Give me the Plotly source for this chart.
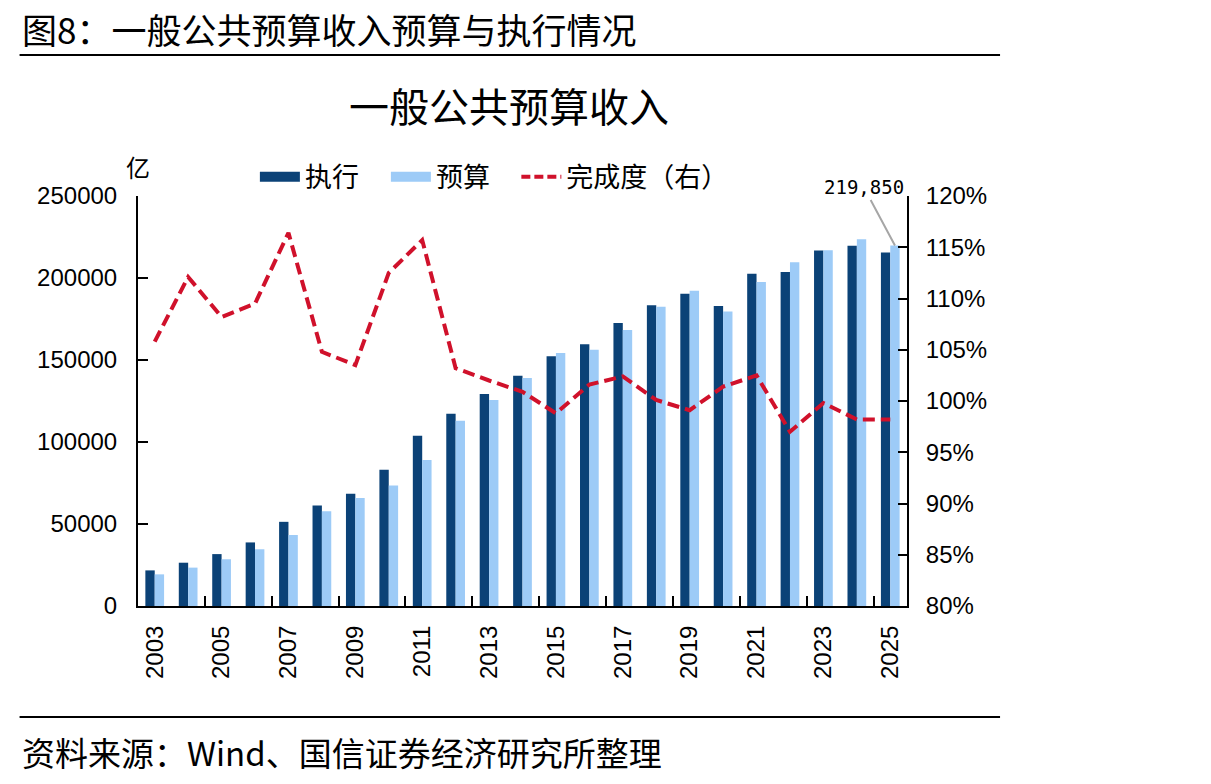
import plotly.graph_objects as go

years = list(range(2003, 2026))
executed = [21715, 26396, 31649, 38760, 51322, 61330, 68518, 83102, 103874, 117254,
            129210, 140370, 152269, 159605, 172567, 183352, 190382, 182895, 202539, 203703,
            216784, 219702, 215600]
budget = [19300, 23400, 28500, 34600, 43300, 57700, 65900, 73400, 89000, 113000,
          125600, 139000, 154300, 156300, 168300, 182500, 192300, 179500, 197600, 209600,
          216900, 223600, 219850]
completion = [1.058, 1.121, 1.082, 1.095, 1.164, 1.048, 1.035, 1.125, 1.157, 1.032,
              1.020, 1.009, 0.988, 1.016, 1.024, 1.001, 0.991, 1.014, 1.025, 0.970,
              0.998, 0.982, 0.982]
label_years = years[::2]
boundary_ticks = [y + 0.5 for y in years[1:-1:2]]

FONT_CJK = "Noto Sans CJK SC"
FONT_NUM = "Liberation Sans"
DARK = "#0B4277"
LIGHT = "#9DCBF7"
RED = "#D0112B"

fig = go.Figure()
fig.add_trace(go.Bar(x=years, y=executed, name="执行", showlegend=False, legendgroup="e",
                     marker=dict(color=DARK, line=dict(width=0))))
fig.add_trace(go.Bar(x=years, y=budget, name="预算", showlegend=False, legendgroup="b",
                     marker=dict(color=LIGHT, line=dict(width=0))))
fig.add_trace(go.Scatter(x=years, y=completion, name="完成度（右）", yaxis="y2", mode="lines",
                         showlegend=False, legendgroup="c",
                         line=dict(color=RED, width=4, dash="12px,6px")))
# legend entries (wide swatches like the original)
fig.add_trace(go.Scatter(x=[None], y=[None], mode="lines", name="执行", legendgroup="e",
                         line=dict(color=DARK, width=16)))
fig.add_trace(go.Scatter(x=[None], y=[None], mode="lines", name="预算", legendgroup="b",
                         line=dict(color=LIGHT, width=16)))
fig.add_trace(go.Scatter(x=[None], y=[None], mode="lines", name="完成度（右）", legendgroup="c",
                         legend="legend2", line=dict(color=RED, width=4, dash="9px,4px")))

legend_common = dict(orientation="h", y=1.046, xanchor="left", yanchor="middle",
                     font=dict(family=FONT_CJK, size=27, color="#000"), bgcolor="rgba(0,0,0,0)",
                     itemwidth=40, traceorder="normal")

fig.update_layout(
    width=1211, height=784,
    margin=dict(l=138, r=304, t=196, b=178),
    paper_bgcolor="white", plot_bgcolor="white",
    barmode="group", bargap=0.44, bargroupgap=0,
    showlegend=True,
    legend=dict(x=0.152, entrywidth=76, entrywidthmode="pixels", **legend_common),
    legend2=dict(x=0.492, **legend_common),
    xaxis=dict(range=[2002.5, 2025.5], tickmode="array", tickvals=label_years,
               ticktext=[str(y) for y in label_years], tickangle=-90,
               ticks="inside", ticklen=0, tickcolor="white",
               minor=dict(tickmode="array", tickvals=boundary_ticks, ticks="inside", ticklen=10,
                          tickwidth=2, tickcolor="#000", showgrid=False),
               showline=True, linecolor="#000", linewidth=2, showgrid=False, zeroline=False,
               tickfont=dict(family=FONT_NUM, size=24, color="#000"), ticklabelstandoff=8),
    yaxis=dict(range=[0, 250000], dtick=50000, tickformat="d", ticks="inside", ticklen=10,
               tickwidth=2, tickcolor="#000", showline=True, linecolor="#000", linewidth=2,
               showgrid=False, zeroline=False, ticklabelstandoff=14,
               tickfont=dict(family=FONT_NUM, size=24, color="#000")),
    yaxis2=dict(range=[0.8, 1.2], dtick=0.05, tickformat=".0%", overlaying="y", side="right",
                ticks="inside", ticklen=9, tickwidth=2, tickcolor="#000", showline=True,
                linecolor="#000", linewidth=2, showgrid=False, zeroline=False, ticklabelstandoff=12,
                tickfont=dict(family=FONT_NUM, size=24, color="#000")),
)

fig.add_annotation(xref="paper", yref="paper", x=0.0, y=1.0, yshift=30, text="亿", showarrow=False,
                   font=dict(family=FONT_CJK, size=24, color="#000"), xanchor="center", yanchor="middle")
fig.add_annotation(xref="x", yref="y", x=years[-1] + 0.14, y=budget[-1], text=f"{budget[-1]:,}",
                   showarrow=True, arrowhead=0, arrowwidth=2, arrowcolor="#A6A6A6", ax=-31, ay=-58,
                   font=dict(family="DejaVu Sans Mono", size=19, color="#000"))

# titles
fig.add_annotation(xref="paper", yref="paper", x=0.482, y=1.0, yshift=91, text="一般公共预算收入",
                   showarrow=False, font=dict(family=FONT_CJK, size=40, color="#000"),
                   xanchor="center", yanchor="middle")
fig.add_annotation(xref="paper", yref="paper", x=-0.154, y=1.0, yshift=195,
                   text="图8：一般公共预算收入预算与执行情况", showarrow=False,
                   font=dict(family=FONT_CJK, size=35, color="#000"), xanchor="left", yanchor="top")
fig.add_annotation(xref="paper", yref="paper", x=-0.154, y=0.0, yshift=-146,
                   text="资料来源：Wind、国信证券经济研究所整理", showarrow=False,
                   font=dict(family=FONT_CJK, size=33, color="#000"), xanchor="left", yanchor="middle")

fig.add_shape(type="line", xref="paper", yref="paper", x0=-0.154, x1=1.121,
              y0=1 + 141 / 410, y1=1 + 141 / 410, line=dict(color="#000", width=2))
fig.add_shape(type="line", xref="paper", yref="paper", x0=-0.154, x1=1.121,
              y0=-111 / 410, y1=-111 / 410, line=dict(color="#000", width=2))

fig.write_html("out.html")
